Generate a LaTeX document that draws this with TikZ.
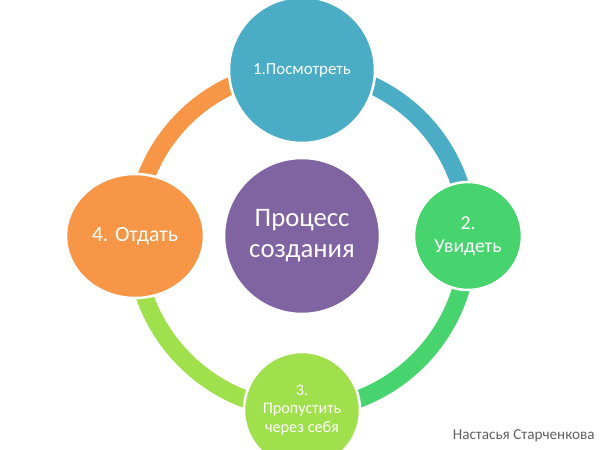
\documentclass[tikz,border=0pt]{standalone}
\usepackage{fontspec}
\setmainfont{Carlito}
\usetikzlibrary{shapes.geometric,backgrounds}

\definecolor{lookblue}{HTML}{4BACC6}
\definecolor{seegreen}{HTML}{47D46F}
\definecolor{passlime}{HTML}{A0E04C}
\definecolor{giveorange}{HTML}{F79646}
\definecolor{corepurple}{HTML}{8064A2}

\begin{document}
\begin{tikzpicture}[
    stage/.style={circle, draw=white, line width=1.8pt, text=white, align=center, inner sep=0pt},
    ring/.style={line width=0.44cm}]
  \clip (0,0) rectangle (15,11.25);
  % the four stages and the centre
  \node [stage, fill=lookblue, minimum size=3.65cm, font=\fontsize{12}{14}\selectfont] (look) at (7.55,9.5) {1.Посмотреть};
  \node [stage, fill=seegreen, minimum size=2.7cm, font=\fontsize{14}{16.5}\selectfont] (see) at (11.7,5.35) {2.\\Увидеть};
  \node [stage, fill=passlime, minimum size=2.9cm, font=\fontsize{11.5}{13}\selectfont] (pass) at (7.55,1.0) {3.\\Пропустить\\через себя};
  \node [stage, ellipse, fill=giveorange, minimum width=3.45cm, minimum height=3.1cm, font=\fontsize{15.5}{18}\selectfont] (give) at (3.375,5.35) {4. Отдать};
  \node [stage, fill=corepurple, minimum size=3.9cm, font=\fontsize{19}{22}\selectfont] (core) at (7.55,5.35) {Процесс\\создания};
  % ring between the stages
  \begin{scope}[on background layer]
    \draw [ring, lookblue] (look.center) to [bend left=45] (see.center);
    \draw [ring, seegreen] (see.center) to [bend left=45] (pass.center);
    \draw [ring, passlime] (pass.center) to [bend left=45] (give.center);
    \draw [ring, giveorange] (give.center) to [bend left=45] (look.center);
  \end{scope}
  \node [anchor=east, inner sep=0pt, text=black!62, font=\fontsize{10.8}{12}\selectfont] (author) at (14.875,0.35) {Настасья Старченкова};
\end{tikzpicture}
\end{document}
